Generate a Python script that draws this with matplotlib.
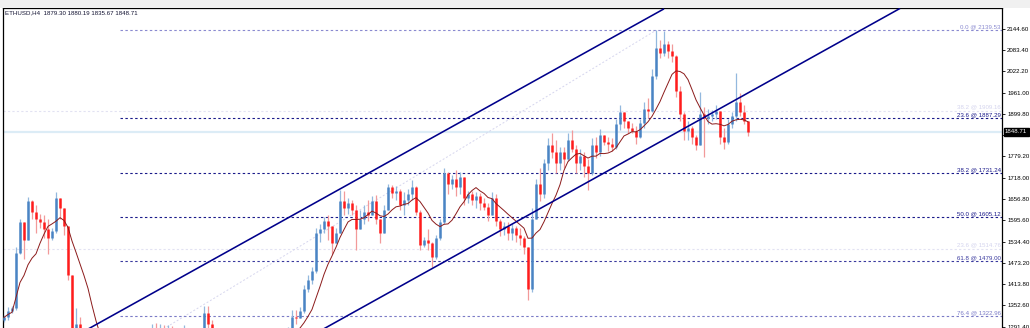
import matplotlib
matplotlib.use("Agg")
import matplotlib.pyplot as plt
from matplotlib.patches import Rectangle
import numpy as np
import pandas as pd

plt.rcParams['font.family'] = ['Liberation Sans', 'DejaVu Sans']

symbol_title = "ETHUSD,H4  1879.30 1880.19 1835.67 1848.71"

closes = [1318, 1335, 1345, 1502, 1590, 1540, 1650, 1620, 1600, 1590,
          1570, 1545, 1565, 1660, 1630, 1580, 1440, 1250, 1300, 1270,
          1245, 1235, 1225, 1230, 1240, 1228, 1220, 1232, 1245, 1238,
          1250, 1256, 1248, 1258, 1262, 1268, 1272, 1285, 1278, 1282,
          1276, 1280, 1270, 1265, 1258, 1270, 1262, 1255, 1260, 1275,
          1330, 1300, 1270, 1262, 1255, 1248, 1252, 1240, 1235, 1242,
          1250, 1245, 1255, 1260, 1252, 1258, 1265, 1262, 1270, 1265,
          1275, 1282, 1320, 1315, 1335, 1400, 1425, 1450, 1560, 1570,
          1595, 1580, 1530, 1560, 1650, 1630, 1645, 1625, 1570, 1600,
          1620, 1610, 1650, 1600, 1560, 1625, 1690, 1675, 1680, 1640,
          1655, 1670, 1690, 1620, 1525, 1540, 1530, 1490, 1545, 1590,
          1730, 1700, 1715, 1690, 1720, 1660, 1670, 1655, 1665, 1645,
          1635, 1610, 1660, 1595, 1570, 1580, 1560, 1575, 1555, 1545,
          1520, 1400, 1600, 1700, 1670, 1760, 1810, 1790, 1760, 1790,
          1770, 1825, 1800, 1760, 1780, 1750, 1730, 1810, 1790, 1840,
          1820, 1815, 1805, 1870, 1905, 1880, 1860, 1850, 1835, 1875,
          1915, 1910, 2010, 2090, 2075, 2100, 2080, 2065, 1965, 1900,
          1850, 1860, 1835, 1810, 1900, 1890, 1895, 1900, 1910, 1835,
          1820, 1870, 1895, 1935, 1905, 1879.30, 1848.71]

highs = [1325, 1348, 1352, 1520, 1600, 1590, 1662, 1655, 1640, 1615,
         1610, 1600, 1575, 1677, 1650, 1615, 1580, 1440, 1345, 1318,
         1285, 1260, 1250, 1248, 1255, 1250, 1240, 1245, 1260, 1258,
         1265, 1270, 1268, 1272, 1278, 1280, 1284, 1300, 1302, 1298,
         1295, 1296, 1294, 1285, 1275, 1296, 1280, 1272, 1276, 1284,
         1350, 1352, 1310, 1280, 1272, 1265, 1268, 1260, 1252, 1258,
         1264, 1262, 1270, 1275, 1270, 1274, 1280, 1280, 1282, 1283,
         1285, 1290, 1340, 1338, 1348, 1410, 1440, 1462, 1575, 1585,
         1605, 1610, 1570, 1575, 1683, 1680, 1660, 1655, 1640, 1625,
         1640, 1655, 1665, 1668, 1600, 1640, 1700, 1698, 1693, 1685,
         1676, 1685, 1711, 1695, 1625, 1548, 1570, 1535, 1555, 1600,
         1745, 1735, 1725, 1740, 1735, 1700, 1680, 1680, 1676, 1675,
         1660, 1645, 1676, 1670, 1600, 1590, 1590, 1585, 1580, 1575,
         1550, 1520, 1630, 1715, 1745, 1770, 1830, 1845, 1826, 1805,
         1805, 1845, 1855, 1810, 1800, 1790, 1770, 1830, 1835, 1856,
         1840, 1835, 1830, 1885, 1926, 1900, 1880, 1875, 1865, 1885,
         1935, 1945, 2030, 2140, 2112, 2138, 2110, 2100, 2070, 1980,
         1905, 1880, 1865, 1840, 1963, 1920, 1915, 1912, 1925, 1910,
         1860, 1885, 1905, 2018, 1960, 1925, 1880.19]

lows = [1305, 1310, 1330, 1340, 1500, 1485, 1540, 1600, 1560, 1575,
        1545, 1500, 1540, 1560, 1600, 1555, 1425, 1230, 1240, 1230,
        1220, 1215, 1205, 1210, 1220, 1212, 1200, 1210, 1225, 1222,
        1230, 1240, 1235, 1240, 1248, 1250, 1258, 1265, 1262, 1266,
        1260, 1262, 1255, 1250, 1240, 1252, 1245, 1238, 1244, 1255,
        1270, 1285, 1255, 1245, 1238, 1230, 1235, 1225, 1218, 1226,
        1232, 1230, 1238, 1245, 1238, 1242, 1250, 1248, 1255, 1250,
        1258, 1265, 1275, 1300, 1320, 1330, 1390, 1415, 1445, 1535,
        1560, 1540, 1500, 1530, 1600, 1610, 1615, 1612, 1510, 1580,
        1585, 1595, 1620, 1585, 1530, 1570, 1640, 1660, 1655, 1625,
        1611, 1640, 1655, 1610, 1510, 1520, 1510, 1462, 1485, 1540,
        1585, 1670, 1685, 1665, 1670, 1640, 1645, 1640, 1632, 1625,
        1625, 1595, 1615, 1580, 1550, 1555, 1540, 1540, 1535, 1525,
        1500, 1368, 1390, 1620, 1650, 1660, 1740, 1775, 1730, 1740,
        1745, 1765, 1790, 1730, 1740, 1720, 1683, 1725, 1775, 1780,
        1810, 1795, 1795, 1800, 1855, 1860, 1845, 1845, 1815, 1830,
        1860, 1890, 1905, 2000, 2060, 2065, 2060, 2050, 1950, 1880,
        1826, 1826, 1815, 1797, 1810, 1777, 1870, 1880, 1885, 1815,
        1800, 1815, 1860, 1880, 1895, 1870, 1835.67]

first_open = 1312.0
ma_period = 9

fib_names = ["0.0", "23.6", "38.2", "50.0", "61.8", "76.4"]
fib_prices = [2139.53, 1887.29, 1731.24, 1605.12, 1479.00, 1322.96]
fib_colors = ["#8a8ad0", "#1a1a8a", "#1a1a8a", "#1a1a8a", "#3a3a9e", "#7a7ac6"]
faint_names = ["38.2", "23.6"]
faint_prices = [1909.16, 1514.76]
fib_start_bar = 29

upper_channel = [(20, 1278.3), (165, 2200.9)]
lower_channel = [(79, 1279.4), (224, 2202.1)]
fib_trend = [(9, 1070.7), (163, 2139.53)]

ytick_values = [2144.60, 2083.40, 2022.20, 1961.00, 1899.80, 1838.60, 1779.20,
                1718.00, 1656.80, 1595.60, 1534.40, 1473.20, 1413.80, 1352.60, 1291.40]
last_price = 1848.71

# ---------------------------------------------------------------
W, H = 1030, 328
fig = plt.figure(figsize=(W / 100, H / 100), dpi=100)
fig.patch.set_facecolor("white")
fig.patches.append(Rectangle((0, 1 - 8 / H), 1, 8 / H, transform=fig.transFigure,
                             facecolor="#f0f0f0", edgecolor="none", zorder=0))

top_px, bot_px = 8, 340
ax = fig.add_axes([3 / W, 1 - bot_px / H, 999 / W, (bot_px - top_px) / H])
ax.set_facecolor("white")
ax.set_xlim(-0.25, 249.5)
ax.set_ylim(1253.4, 2203.3)

n = len(closes)
idx = np.arange(n)
c = np.array(closes, dtype=float)
o = np.array([first_open] + closes[:-1], dtype=float)
hi = np.maximum.reduce([np.array(highs, float), o, c])
lo = np.minimum.reduce([np.array(lows, float), o, c])
up = c >= o

# faint lines spanning full width
ax.axhline(last_price, color="#dcecf6", lw=1.6, zorder=1)
for nm, p in zip(faint_names, faint_prices):
    ax.axhline(p, color="#e2e2f2", lw=0.8, ls=(0, (2, 2)), zorder=1)
    ax.annotate(f"{nm} @ {p:.2f}", xy=(249.2, p), xytext=(0, 1), textcoords="offset points",
                ha="right", va="bottom", fontsize=4.4, color="#d4d4ee", zorder=2)

# fib trend line
(fx0, fy0), (fx1, fy1) = fib_trend
ax.plot([fx0, fx1], [fy0, fy1], color="#d6d6ee", lw=0.7, ls=(0, (2, 2)), zorder=1)

# fib levels
for nm, p, col in zip(fib_names, fib_prices, fib_colors):
    ax.plot([fib_start_bar, 249.5], [p, p], color=col, lw=0.8, ls=(0, (2.2, 2.2)), zorder=2)
    ax.annotate(f"{nm} @ {p:.2f}", xy=(249.2, p), xytext=(0, 0.6), textcoords="offset points",
                ha="right", va="bottom", fontsize=4.4, color=col, zorder=5)

# candles
ax.vlines(idx[up], lo[up], hi[up], color="#93b8de", lw=0.9, zorder=3)
ax.vlines(idx[~up], lo[~up], hi[~up], color="#f29a9a", lw=0.9, zorder=3)
ax.vlines(idx[up], o[up], c[up], color="#4a84c4", lw=1.8, zorder=4)
ax.vlines(idx[~up], o[~up], c[~up], color="#ff1c1c", lw=1.8, zorder=4)

# moving average
ma = pd.Series(c).rolling(ma_period, min_periods=1).mean()
ax.plot(idx, ma, color="#8b1a1a", lw=0.7, zorder=5)

# channel
for (x0, y0), (x1, y1) in (upper_channel, lower_channel):
    ax.plot([x0, x1], [y0, y1], color="#00008b", lw=1.15, zorder=6, solid_capstyle="butt")

# axes styling
ax.spines["bottom"].set_visible(False)
for s in ["left", "top", "right"]:
    ax.spines[s].set_color("black")
    ax.spines[s].set_linewidth(0.9)
ax.set_xticks([])
ax.yaxis.tick_right()
ax.set_yticks(ytick_values)
ax.set_yticklabels([f"{v:.2f}" for v in ytick_values])
ax.tick_params(axis="y", which="both", length=2.2, width=0.6, pad=1.5,
               labelsize=4.4, colors="black")

# current price box
ax.annotate(f"{last_price:.2f}", xy=(1.0, last_price), xycoords=ax.get_yaxis_transform(),
            xytext=(2.2, 0), textcoords="offset points", ha="left", va="center",
            fontsize=4.4, color="white", annotation_clip=False, zorder=10,
            bbox=dict(boxstyle="square,pad=0.25", fc="black", ec="black"))

fig.text(5 / W, 1 - 13 / H, symbol_title, fontsize=4.4, color="#101030",
         ha="left", va="center")

fig.savefig("out.png", dpi=100)
